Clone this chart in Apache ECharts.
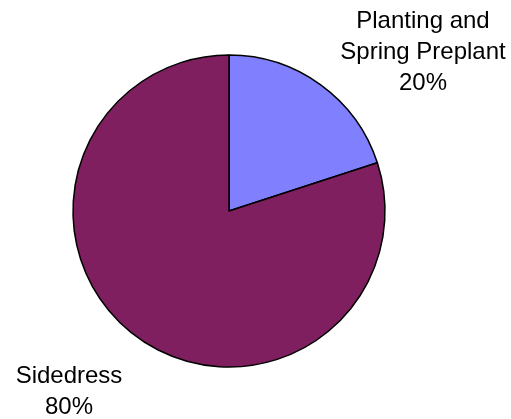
<!DOCTYPE html>
<html><head><meta charset="utf-8">
<script src="https://cdn.jsdelivr.net/npm/echarts@6/dist/echarts.min.js"></script>
<style>html,body{margin:0;padding:0;background:#fff}#c{width:511px;height:419px}</style>
</head><body><div id="c"></div>
<script>
const categories = ['Planting and\nSpring Preplant', 'Sidedress'];
const values = [20, 80];
const colors = ['#8080FF', '#7F1F5F'];
const labelPos = [[423, 52], [69, 392]];

const chart = echarts.init(document.getElementById('c'), null, {renderer: 'canvas'});
chart.setOption({
  animation: false,
  backgroundColor: '#ffffff',
  series: [{
    type: 'pie',
    center: [229, 211],
    radius: [0, 156],
    startAngle: 90,
    clockwise: true,
    data: categories.map((c, i) => ({name: c, value: values[i], itemStyle: {color: colors[i]}})),
    itemStyle: {borderColor: '#000', borderWidth: 1.5},
    label: {
      show: true,
      formatter: '{b}\n{d}%',
      fontFamily: 'Liberation Sans, Arial, sans-serif',
      fontSize: 24,
      lineHeight: 31,
      color: '#000',
      align: 'center',
      width: 220,
      overflow: 'none'
    },
    labelLine: {show: false},
    labelLayout: function (p) {
      const pos = labelPos[p.dataIndex];
      return {x: pos[0], y: pos[1], align: 'center', verticalAlign: 'middle'};
    }
  }]
});
</script></body></html>
